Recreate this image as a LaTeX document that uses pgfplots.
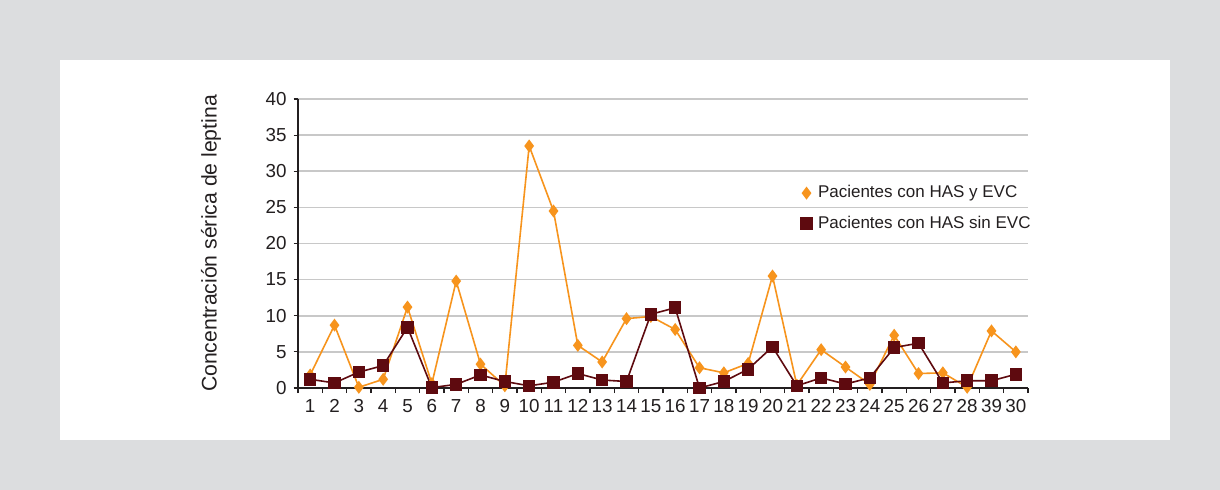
\documentclass[border=0pt]{standalone}
\usepackage{pgfplots}
\pgfplotsset{compat=1.18}
\usepackage{fontspec}
\setmainfont{Liberation Sans}
\definecolor{outerbg}{HTML}{DCDDDF}
\definecolor{orng}{HTML}{F7941D}
\definecolor{dred}{HTML}{5E0A0F}
\definecolor{gridc}{HTML}{C8C8C8}
\definecolor{txt}{HTML}{231F20}

\pgfplotsset{markonly legend/.style={legend image code/.code={\draw[##1] plot[only marks] coordinates {(0.1cm,0cm)};}}}

\pgfplotstableread{
x y
1 1.8
2 8.7
3 0.1
4 1.2
5 11.2
6 0.6
7 14.8
8 3.3
9 0.3
10 33.5
11 24.5
12 5.9
13 3.6
14 9.6
15 9.9
16 8.1
17 2.8
18 2.1
19 3.4
20 15.5
21 0.4
22 5.3
23 2.9
24 0.5
25 7.3
26 2.0
27 2.1
28 0.1
29 7.9
30 5.0
}\conevc

\pgfplotstableread{
x y
1 1.2
2 0.7
3 2.2
4 3.1
5 8.4
6 0.05
7 0.5
8 1.8
9 0.9
10 0.3
11 0.8
12 2.0
13 1.1
14 0.9
15 10.2
16 11.1
17 0.0
18 0.9
19 2.6
20 5.7
21 0.3
22 1.4
23 0.55
24 1.4
25 5.6
26 6.2
27 0.7
28 1.0
29 1.0
30 1.9
}\sinevc

\begin{document}
\begin{tikzpicture}
\fill[outerbg] (0pt,0pt) rectangle (610pt,245pt);
\fill[white] (30pt,25pt) rectangle (585pt,215pt);
\begin{axis}[
  at={(149pt,51pt)}, anchor=south west,
  scale only axis, width=365pt, height=144.5pt,
  xmin=0.5, xmax=30.5, ymin=0, ymax=40,
  axis x line*=bottom, axis y line*=left,
  axis line style={-, draw=txt, line width=0.7pt},
  xtick={1,...,30},
  xticklabels={1,2,3,4,5,6,7,8,9,10,11,12,13,14,15,16,17,18,19,20,21,22,23,24,25,26,27,28,39,30},
  minor xtick={0.5,1.5,...,30.5},
  major x tick style={draw=none},
  minor x tick style={draw=txt, line width=0.6pt},
  minor tick length=2.6pt,
  ytick={0,5,...,40},
  major y tick style={draw=txt, line width=0.6pt},
  major tick length=2.2pt,
  tick align=outside,
  ymajorgrids,
  grid style={draw=gridc, line width=0.8pt},
  ticklabel style={font=\fontsize{9.4}{10}\selectfont, text=txt},
  /pgf/number format/assume math mode=true,
  ylabel={Concentración sérica de leptina},
  every axis y label/.style={at={(axis description cs:0,0.5)}, xshift=-43.5pt, rotate=90, anchor=center, font=\fontsize{10.6}{12}\selectfont, text=txt},
  legend style={at={(0.6885,0.716)}, anchor=north west, draw=none, fill=none,
     font=\fontsize{8.5}{10}\selectfont, text=txt, row sep=3.5pt, inner sep=0pt,
     /tikz/every odd column/.style={column sep=1pt}},
  legend cell align=left,
  clip=false,
]
\addplot[orng, line width=0.8pt, mark=diamond*, mark size=2.6pt,
  mark options={fill=orng, draw=orng}, markonly legend]
  table[x=x,y=y] {\conevc};
\addlegendentry{Pacientes con HAS y EVC}
\addplot[dred, line width=0.8pt, mark=square*, mark size=2.75pt,
  mark options={fill=dred, draw=dred}, markonly legend]
  table[x=x,y=y] {\sinevc};
\addlegendentry{Pacientes con HAS sin EVC}
\end{axis}
\end{tikzpicture}
\end{document}
